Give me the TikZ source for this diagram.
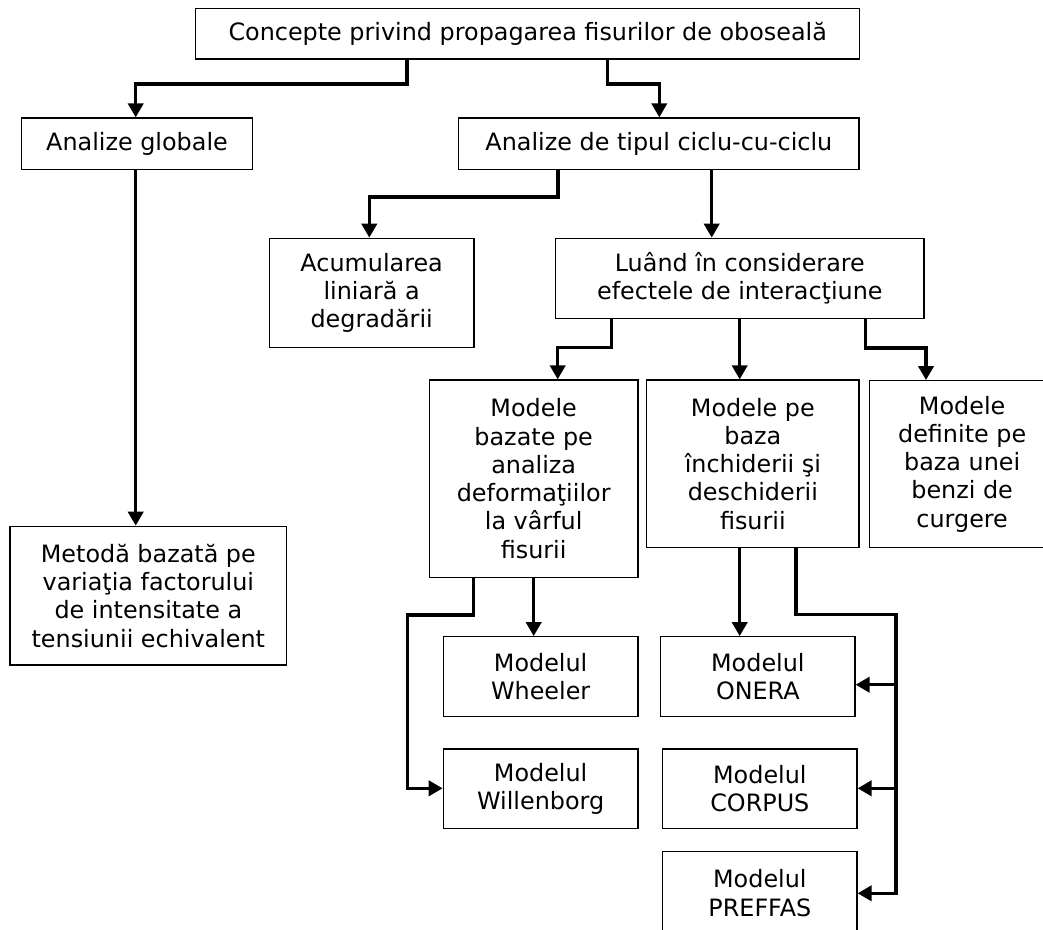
\documentclass[tikz,border=0pt]{standalone}
\usepackage{fontspec}
\setmainfont{DejaVu Sans}
\usetikzlibrary{arrows.meta}
\tikzset{
  box/.style={draw=black, line width=1pt, rectangle, inner sep=0pt, align=center,
    font=\fontsize{17.9}{21.2}\selectfont},
  conn/.style={line width=2.3pt, -{Triangle[length=10.5pt,width=11.5pt]}},
}
\newcommand\bx[6]{%
  \pgfmathsetmacro\bxw{(#4-#2)*0.75}%
  \pgfmathsetmacro\bxh{(#5-#3)*0.75}%
  \node[box, minimum width=\bxw pt, minimum height=\bxh pt] (#1) at ({(#2+#4)/2},{(#3+#5)/2}) {#6};}
\begin{document}
\begin{tikzpicture}[x=0.75pt, y=-0.75pt]
\useasboundingbox (0,0) rectangle (1043,929);
\fill[white] (0,0) rectangle (1043,929);
\bx{top}{195.7}{8.3}{859.7}{59}{Concepte privind propagarea fisurilor de oboseală}
\bx{AG}{21.7}{118}{252.3}{169.3}{Analize globale}
\bx{ADT}{458.7}{118}{859}{169.3}{Analize de tipul ciclu-cu-ciclu}
\bx{Acum}{269.3}{238.3}{474}{347.3}{Acumularea\\liniară a\\degradării}
\bx{L}{555.7}{238.3}{924}{318.3}{Luând în considerare\\efectele de interacţiune}
\bx{MB}{429.3}{380}{638}{577.3}{Modele\\bazate pe\\analiza\\deformaţiilor\\la vârful\\fisurii}
\bx{MPB}{646.7}{380}{859}{547.3}{Modele pe\\baza\\închiderii şi\\deschiderii\\fisurii}
\bx{MD}{869.3}{380.7}{1055}{547.3}{Modele\\definite pe\\baza unei\\benzi de\\curgere}
\bx{Met}{10}{526.3}{286.7}{665}{Metodă bazată pe\\variaţia factorului\\de intensitate a\\tensiunii echivalent}
\bx{Wh}{443.3}{636.7}{638}{716.3}{Modelul\\Wheeler}
\bx{Wil}{443.3}{749}{638}{828.3}{Modelul\\Willenborg}
\bx{ON}{660.7}{636.7}{855}{716.3}{Modelul\\ONERA}
\bx{CO}{662.7}{749}{857}{828.3}{Modelul\\CORPUS}
\bx{PR}{662.7}{851.3}{857}{935}{Modelul\\PREFFAS}

\draw[conn] (top.south -| 407,0) -- (407,84) -| (AG.north -| 135.7,0);
\draw[conn] (top.south -| 607.7,0) -- (607.7,84) -| (ADT.north -| 659.3,0);
\draw[conn] (AG.south -| 135.7,0) -- (Met.north -| 135.7,0);
\draw[conn] (ADT.south -| 558,0) -- (558,197) -| (Acum.north -| 369.3,0);
\draw[conn] (ADT.south -| 711.7,0) -- (L.north -| 711.7,0);
\draw[conn] (L.south -| 611.7,0) -- (611.7,347.7) -| (MB.north -| 557.7,0);
\draw[conn] (L.south -| 739.7,0) -- (MPB.north -| 739.7,0);
\draw[conn] (L.south -| 865.3,0) -- (865.3,348) -| (MD.north -| 926,0);
\draw[conn] (MB.south -| 533.7,0) -- (Wh.north -| 533.7,0);
\draw[conn] (MB.south -| 473.3,0) -- (473.3,615) -- (407.3,615) |- (Wil.west |- 0,788.3);
\draw[conn] (MPB.south -| 739.7,0) -- (ON.north -| 739.7,0);
\draw[conn] (MPB.south -| 796,0) -- (796,614.7) -- (896,614.7) |- (PR.east |- 0,893.3);
\coordinate (j1) at (896,684.7);
\coordinate (j2) at (896,788.3);
\draw[conn] (j1) -- (ON.east |- j1);
\draw[conn] (j2) -- (CO.east |- j2);
\end{tikzpicture}
\end{document}
